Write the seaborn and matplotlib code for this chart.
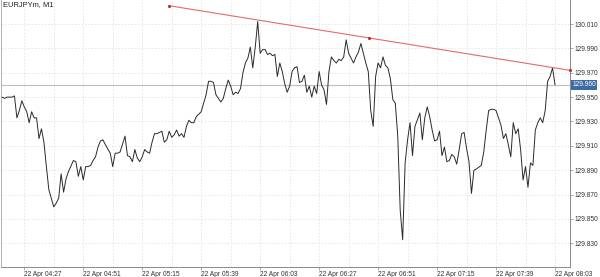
import matplotlib
matplotlib.use("Agg")
import matplotlib.pyplot as plt
import matplotlib.dates as mdates
import numpy as np
import pandas as pd
import seaborn as sns

symbol = "EURJPYm, M1"
start = "2025-04-22 04:18"

minutes_a = [0, 1, 2, 4, 5, 6, 7, 8, 9, 10, 11, 12, 13, 14, 15, 16, 17, 18, 19, 21,
             22, 23, 24, 25, 26, 27, 29, 30, 31, 32, 33, 34, 35, 36, 37, 38, 39, 40]
prices_a = [129.950, 129.949, 129.950, 129.950, 129.951, 129.933, 129.939, 129.947, 129.942, 129.938,
            129.929, 129.938, 129.933, 129.933, 129.916, 129.924, 129.913, 129.893, 129.874, 129.860,
            129.863, 129.867, 129.887, 129.872, 129.883, 129.889, 129.898, 129.897, 129.885, 129.893,
            129.882, 129.893, 129.893, 129.894, 129.898, 129.901, 129.909, 129.914]

minutes_b = [41, 42, 44, 45, 46, 47, 48, 50, 51, 52, 53, 54, 55, 56, 57, 58, 59, 60, 61, 62,
             63, 65, 66, 67, 68, 69, 70, 71, 72, 73, 74, 75, 76, 77, 78, 79, 81]
prices_b = [129.915, 129.911, 129.904, 129.893, 129.904, 129.904, 129.905, 129.918, 129.902, 129.901,
            129.897, 129.907, 129.900, 129.897, 129.901, 129.907, 129.905, 129.904, 129.913, 129.920,
            129.920, 129.922, 129.913, 129.915, 129.922, 129.917, 129.919, 129.923, 129.918, 129.920,
            129.917, 129.926, 129.931, 129.929, 129.929, 129.934, 129.938]

minutes_c = list(range(82, 122))
prices_c = [129.945, 129.952, 129.963, 129.963, 129.962, 129.952, 129.949, 129.946, 129.949, 129.957,
            129.964, 129.959, 129.952, 129.954, 129.953, 129.957, 129.970, 129.978, 129.982, 129.991,
            129.974, 129.991, 130.012, 129.986, 129.989, 129.989, 129.985, 129.986, 129.984, 129.985,
            129.967, 129.978, 129.971, 129.961, 129.954, 129.959, 129.971, 129.974, 129.975, 129.962]

minutes_d = [122, 123, 124, 125, 126, 127, 128, 129, 130, 131, 132, 133, 134, 135, 136, 137, 138, 139,
             140, 141, 142, 143, 144, 145, 146, 147, 148, 149, 150, 151, 152, 153, 154, 155, 156,
             157, 158, 159, 160, 161, 162, 163, 164, 165, 166, 167, 168]
prices_d = [129.963, 129.968, 129.954, 129.959, 129.950, 129.959, 129.953, 129.971, 129.960, 129.956,
            129.944, 129.971, 129.983, 129.980, 129.978, 129.981, 129.980, 129.983, 129.997, 129.986,
            129.982, 129.978, 129.983, 129.987, 129.994, 129.986, 129.978, 129.971, 129.939, 129.926,
            129.967, 129.978, 129.974, 129.983, 129.976, 129.974, 129.965, 129.948, 129.945, 129.918,
            129.857, 129.833, 129.896, 129.915, 129.929, 129.902, 129.926]

minutes_e = [170, 171, 172, 173, 174, 175, 176, 177, 178, 179, 180, 181, 182, 183, 184, 185, 186,
             187, 188, 189, 190, 191, 192, 193, 195, 196, 197, 198, 199, 200, 201]
prices_e = [129.937, 129.915, 129.933, 129.942, 129.934, 129.923, 129.914, 129.915, 129.922, 129.902,
            129.909, 129.897, 129.898, 129.903, 129.901, 129.895, 129.907, 129.920, 129.921, 129.908,
            129.897, 129.871, 129.890, 129.891, 129.894, 129.905, 129.923, 129.939, 129.940, 129.940,
            129.939]

minutes_f = [203, 204, 205, 206, 207, 208, 209, 210, 211, 212, 213, 214, 215, 216, 217, 218, 219,
             220, 221, 222, 223, 224, 225]
prices_f = [129.927, 129.916, 129.920, 129.911, 129.901, 129.929, 129.920, 129.924, 129.907, 129.882,
            129.893, 129.876, 129.896, 129.894, 129.923, 129.929, 129.933, 129.929, 129.939, 129.963,
            129.967, 129.974, 129.960]

trend_minutes = [68, 231]
trend_prices = [130.025, 129.972]

y_ticks = [129.830, 129.850, 129.870, 129.890, 129.910, 129.930, 129.950, 129.970, 129.990, 130.010]
x_label_times = ["04:27", "04:51", "05:15", "05:39", "06:03", "06:27", "06:51", "07:15", "07:39", "08:03"]
x_grid_times = ["04:39", "05:03", "05:27", "05:51", "06:15", "06:39", "07:03", "07:27", "07:51"]

minutes = minutes_a + minutes_b + minutes_c + minutes_d + minutes_e + minutes_f
prices = prices_a + prices_b + prices_c + prices_d + prices_e + prices_f
assert len(minutes) == len(prices)

t0 = pd.Timestamp(start)
df = pd.DataFrame({"time": t0 + pd.to_timedelta(minutes, unit="m"), "price": prices})
trend = pd.DataFrame({"time": t0 + pd.to_timedelta(trend_minutes, unit="m"), "price": trend_prices})

sns.set_style("white")
plt.rcParams["font.family"] = ["Liberation Sans", "DejaVu Sans"]

fig = plt.figure(figsize=(6.0, 2.77), dpi=100)
ax = fig.add_axes([1 / 600, 10 / 277, 569 / 600, 267 / 277])

day = t0.normalize()
def at(hhmm):
    h, m = hhmm.split(":")
    return day + pd.Timedelta(hours=int(h), minutes=int(m))

major = [at(s) for s in x_label_times]
minor = [at(s) for s in x_grid_times]
ax.set_xticks(major)
ax.set_xticks(minor, minor=True)
ax.xaxis.set_major_formatter(mdates.DateFormatter("%d %b %H:%M"))

ax.grid(True, which="both", color="#e3e3e3", linestyle=(0, (2, 2)), linewidth=0.6)
ax.set_axisbelow(True)

# current price line
last_price = prices[-1]
ax.axhline(last_price, color="#b9c0c8", linewidth=0.8, zorder=2)

sns.lineplot(data=df, x="time", y="price", ax=ax, color="#2a2a2a", linewidth=0.7, zorder=3)

# trend line
sns.lineplot(data=trend, x="time", y="price", ax=ax, color="#e46a6a", linewidth=0.8, zorder=4)
mid_time = trend["time"].iloc[0] + (trend["time"].iloc[1] - trend["time"].iloc[0]) / 2
mid_price = float(np.mean(trend_prices))
ax.scatter(list(trend["time"]) + [mid_time], trend_prices + [mid_price], s=5, color="#c42a2a",
           zorder=5, linewidths=0, clip_on=False)

ax.set_xlim(t0 - pd.Timedelta(minutes=0.47), t0 + pd.Timedelta(minutes=231.1))
ax.set_ylim(129.8106, 130.0297)

ax.yaxis.tick_right()
ax.set_yticks(y_ticks)
ax.set_yticklabels([f"{v:.3f}" for v in y_ticks])
ax.tick_params(axis="y", which="both", right=True, length=2, width=0.5, color="#888888",
               labelsize=4.8, labelcolor="#333333", pad=1.5)
ax.tick_params(axis="x", which="major", bottom=True, length=2, width=0.5, color="#888888",
               labelsize=4.8, labelcolor="#333333", pad=1.2)
ax.tick_params(axis="x", which="minor", length=0)
plt.setp(ax.get_xticklabels(), ha="left")

ax.set_xlabel("")
ax.set_ylabel("")
ax.spines["top"].set_visible(False)
ax.spines["right"].set_color("#8a8a8a")
ax.spines["bottom"].set_color("#8a8a8a")
ax.spines["left"].set_color("#b0b0b0")
for s in ["right", "bottom", "left"]:
    ax.spines[s].set_linewidth(0.7)

ax.annotate(f"{last_price:.3f}", xy=(1, last_price), xycoords=("axes fraction", "data"),
            xytext=(1.6, 0), textcoords="offset points", ha="left", va="center",
            color="white", fontsize=4.8,
            bbox=dict(boxstyle="square,pad=0.18", fc="#3d6ca3", ec="none"),
            annotation_clip=False, zorder=6)

ax.text(0.003, 0.995, symbol, transform=ax.transAxes, ha="left", va="top",
        fontsize=5.4, color="#222222")

fig.savefig("out.png", dpi=100)
